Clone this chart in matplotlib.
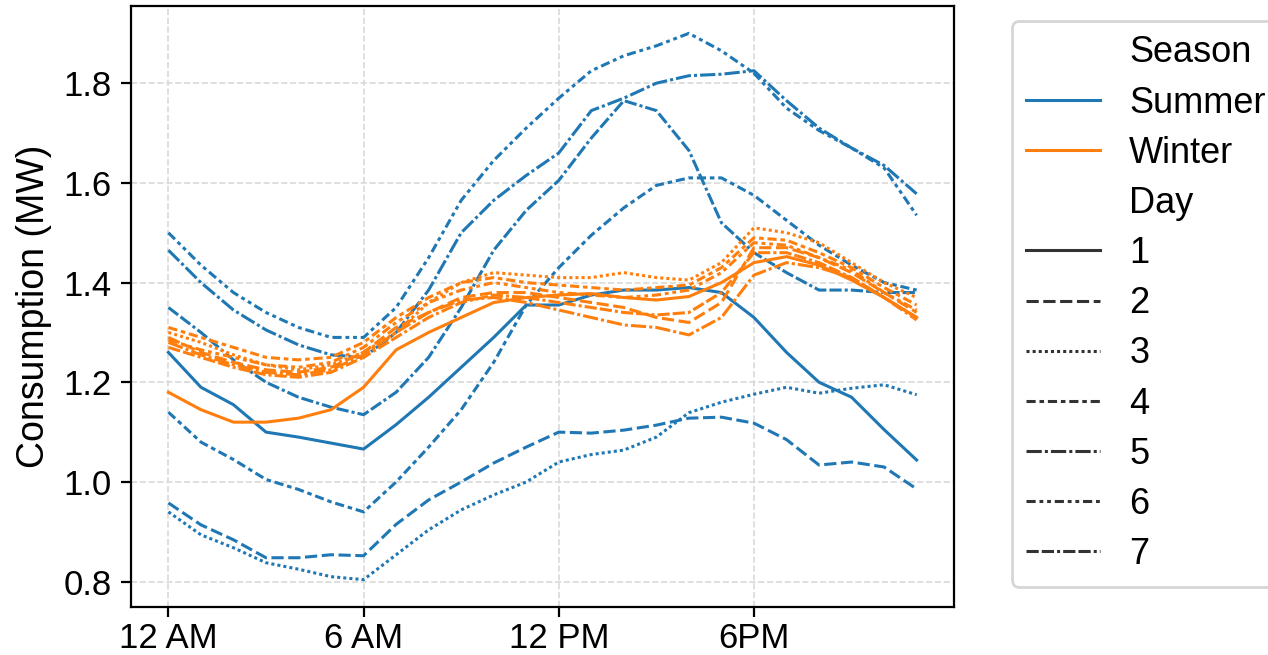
import matplotlib
matplotlib.use("Agg")
import matplotlib.pyplot as plt
import seaborn as sns
import pandas as pd

plt.rcParams['font.family'] = ['Liberation Sans', 'DejaVu Sans']

hours = list(range(24))
days = [1, 2, 3, 4, 5, 6, 7]

# summer, one list per day
summer = {
    1: [1.26, 1.19, 1.155, 1.10, 1.09, 1.078, 1.066, 1.115, 1.17, 1.23, 1.29, 1.355,
        1.355, 1.375, 1.385, 1.385, 1.39, 1.38, 1.33, 1.26, 1.20, 1.17, 1.105, 1.044],
    2: [0.958, 0.914, 0.884, 0.848, 0.848, 0.854, 0.852, 0.915, 0.964, 1.0, 1.038, 1.07,
        1.10, 1.098, 1.104, 1.114, 1.128, 1.13, 1.118, 1.085, 1.034, 1.04, 1.03, 0.986],
    3: [0.94, 0.894, 0.868, 0.838, 0.825, 0.81, 0.804, 0.854, 0.904, 0.944, 0.974, 1.0,
        1.04, 1.055, 1.064, 1.09, 1.139, 1.16, 1.176, 1.19, 1.178, 1.188, 1.195, 1.175],
    4: [1.14, 1.08, 1.045, 1.005, 0.985, 0.96, 0.94, 1.0, 1.07, 1.145, 1.24, 1.355,
        1.43, 1.495, 1.55, 1.595, 1.61, 1.61, 1.575, 1.525, 1.475, 1.435, 1.40, 1.385],
    5: [1.465, 1.40, 1.345, 1.305, 1.275, 1.255, 1.25, 1.30, 1.385, 1.50, 1.565, 1.615,
        1.66, 1.745, 1.77, 1.80, 1.815, 1.818, 1.825, 1.765, 1.71, 1.67, 1.635, 1.578],
    6: [1.50, 1.435, 1.38, 1.34, 1.31, 1.29, 1.29, 1.35, 1.45, 1.565, 1.645, 1.71,
        1.77, 1.825, 1.855, 1.875, 1.90, 1.865, 1.82, 1.75, 1.705, 1.67, 1.63, 1.535],
    7: [1.35, 1.30, 1.245, 1.20, 1.17, 1.15, 1.135, 1.18, 1.25, 1.35, 1.465, 1.545,
        1.605, 1.69, 1.765, 1.745, 1.665, 1.52, 1.46, 1.42, 1.385, 1.385, 1.38, 1.38],
}

winter = {
    1: [1.18, 1.145, 1.12, 1.12, 1.128, 1.145, 1.19, 1.265, 1.30, 1.33, 1.36, 1.37,
        1.375, 1.378, 1.37, 1.365, 1.372, 1.40, 1.44, 1.452, 1.435, 1.405, 1.37, 1.33],
    2: [1.29, 1.26, 1.24, 1.225, 1.22, 1.23, 1.26, 1.31, 1.34, 1.37, 1.38, 1.38,
        1.37, 1.36, 1.35, 1.33, 1.32, 1.36, 1.47, 1.47, 1.45, 1.42, 1.38, 1.34],
    3: [1.30, 1.28, 1.255, 1.235, 1.225, 1.235, 1.26, 1.30, 1.36, 1.40, 1.42, 1.415,
        1.41, 1.41, 1.42, 1.41, 1.405, 1.44, 1.51, 1.50, 1.48, 1.44, 1.40, 1.37],
    4: [1.31, 1.29, 1.27, 1.25, 1.245, 1.25, 1.28, 1.33, 1.37, 1.40, 1.41, 1.40,
        1.395, 1.39, 1.385, 1.39, 1.395, 1.43, 1.49, 1.485, 1.46, 1.43, 1.39, 1.355],
    5: [1.28, 1.255, 1.235, 1.22, 1.215, 1.225, 1.255, 1.30, 1.34, 1.365, 1.37, 1.36,
        1.345, 1.33, 1.315, 1.31, 1.295, 1.33, 1.415, 1.44, 1.43, 1.41, 1.37, 1.33],
    6: [1.285, 1.265, 1.25, 1.235, 1.23, 1.24, 1.27, 1.32, 1.36, 1.385, 1.40, 1.39,
        1.38, 1.375, 1.37, 1.375, 1.385, 1.42, 1.48, 1.475, 1.45, 1.425, 1.38, 1.345],
    7: [1.27, 1.25, 1.23, 1.215, 1.21, 1.22, 1.25, 1.29, 1.33, 1.36, 1.375, 1.37,
        1.36, 1.35, 1.34, 1.335, 1.34, 1.38, 1.46, 1.46, 1.44, 1.41, 1.37, 1.325],
}

tick_pos = [0, 6, 12, 18]
tick_labels = ['12 AM', '6 AM', '12 PM', '6PM']

rows = []
for season, table in [('Summer', summer), ('Winter', winter)]:
    for d in days:
        for h, v in zip(hours, table[d]):
            rows.append({'Hour': h, 'Consumption': v, 'Season': season, 'Day': d})
df = pd.DataFrame(rows)

fig = plt.figure(figsize=(6.34, 3.275), dpi=200)
ax = fig.add_axes([0.1033, 0.0733, 0.6491, 0.9175])

sns.lineplot(data=df, x='Hour', y='Consumption', hue='Season', style='Day',
             palette=['#1f77b4', '#ff7f0e'], linewidth=1.1, ax=ax)

ax.set_xticks(tick_pos)
ax.set_xticklabels(tick_labels, fontsize=12.5)
ax.tick_params(axis='x', pad=2)
ax.tick_params(axis='y', labelsize=12.5)
ax.set_xlabel('')
ax.set_ylabel('Consumption (MW)', fontsize=13.5)
ax.grid(True, color='#d9d9d9', linestyle='--', linewidth=0.6)
ax.set_axisbelow(True)

sns.move_legend(ax, 'upper left', bbox_to_anchor=(0.798, 0.968),
                bbox_transform=fig.transFigure, fontsize=13, title=None,
                borderaxespad=0, handlelength=2.05, labelspacing=0.42)

fig.savefig('out.png', dpi=200)
